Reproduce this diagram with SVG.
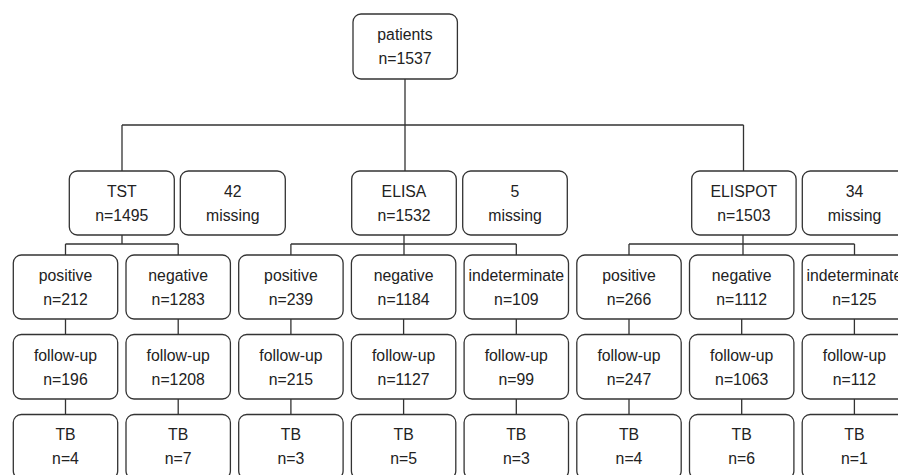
<svg xmlns="http://www.w3.org/2000/svg" width="898" height="475" viewBox="0 0 898 475">
<style>
rect{fill:#fff;stroke:#333;stroke-width:1.3}
text{font-family:"Liberation Sans",Arial,sans-serif;font-size:15.8px;fill:#222;text-anchor:middle}
.c path{fill:none;stroke:#333;stroke-width:1.3}
</style>
<rect x="0" y="0" width="898" height="475" style="stroke:none"/>
<g class="c" id="connectors">
<path d="M405 79V171M122 125H743.5M122 125V171M743.5 125V171"/>
<path d="M122 235V244M65.5 244H178.2M65.5 244V255M178.2 244V255"/>
<path d="M404 235V244M290.9 244H516.3M290.9 244V255M404 244V255M516.3 244V255"/>
<path d="M743 235V244M629 244H854.5M629 244V255M743 244V255M854.5 244V255"/>
<path d="M65.5 319V334M178.2 319V334M290.9 319V334M403.6 319V334M516.3 319V334M629 319V334M741.7 319V334M854.4 319V334"/>
<path d="M65.5 399V414M178.2 399V414M290.9 399V414M403.6 399V414M516.3 399V414M629 399V414M741.7 399V414M854.4 399V414"/>
</g>
<g id="patients"><rect x="353" y="14" width="104.4" height="65" rx="8"/><text x="405" y="40">patients</text><text x="405" y="64">n=1537</text></g>
<g id="tst"><rect x="69.3" y="171" width="105" height="64" rx="8"/><text x="121.8" y="197">TST</text><text x="121.8" y="221">n=1495</text></g>
<g id="tst-missing"><rect x="180.3" y="171" width="105" height="64" rx="8"/><text x="232.8" y="197">42</text><text x="232.8" y="221">missing</text></g>
<g id="elisa"><rect x="351.7" y="171" width="104.6" height="64" rx="8"/><text x="404" y="197">ELISA</text><text x="404" y="221">n=1532</text></g>
<g id="elisa-missing"><rect x="462.7" y="171" width="104.6" height="64" rx="8"/><text x="515" y="197">5</text><text x="515" y="221">missing</text></g>
<g id="elispot"><rect x="691.7" y="171" width="104.4" height="64" rx="8"/><text x="743.9" y="197">ELISPOT</text><text x="743.9" y="221">n=1503</text></g>
<g id="elispot-missing"><rect x="802.3" y="171" width="104.6" height="64" rx="8"/><text x="854.6" y="197">34</text><text x="854.6" y="221">missing</text></g>

<g id="tst-pos"><rect x="13.3" y="255" width="104.4" height="64" rx="8"/><text x="65.5" y="280.5">positive</text><text x="65.5" y="304.5">n=212</text></g>
<g id="tst-neg"><rect x="126" y="255" width="104.4" height="64" rx="8"/><text x="178.2" y="280.5">negative</text><text x="178.2" y="304.5">n=1283</text></g>
<g id="elisa-pos"><rect x="238.7" y="255" width="104.4" height="64" rx="8"/><text x="290.9" y="280.5">positive</text><text x="290.9" y="304.5">n=239</text></g>
<g id="elisa-neg"><rect x="351.4" y="255" width="104.4" height="64" rx="8"/><text x="403.6" y="280.5">negative</text><text x="403.6" y="304.5">n=1184</text></g>
<g id="elisa-ind"><rect x="464.1" y="255" width="104.4" height="64" rx="8"/><text x="516.3" y="280.5">indeterminate</text><text x="516.3" y="304.5">n=109</text></g>
<g id="elispot-pos"><rect x="576.8" y="255" width="104.4" height="64" rx="8"/><text x="629" y="280.5">positive</text><text x="629" y="304.5">n=266</text></g>
<g id="elispot-neg"><rect x="689.5" y="255" width="104.4" height="64" rx="8"/><text x="741.7" y="280.5">negative</text><text x="741.7" y="304.5">n=1112</text></g>
<g id="elispot-ind"><rect x="802.2" y="255" width="104.4" height="64" rx="8"/><text x="854.4" y="280.5">indeterminate</text><text x="854.4" y="304.5">n=125</text></g>

<g id="tst-pos-fu"><rect x="13.3" y="334.5" width="104.4" height="64.5" rx="8"/><text x="65.5" y="360.5">follow-up</text><text x="65.5" y="384.5">n=196</text></g>
<g id="tst-neg-fu"><rect x="126" y="334.5" width="104.4" height="64.5" rx="8"/><text x="178.2" y="360.5">follow-up</text><text x="178.2" y="384.5">n=1208</text></g>
<g id="elisa-pos-fu"><rect x="238.7" y="334.5" width="104.4" height="64.5" rx="8"/><text x="290.9" y="360.5">follow-up</text><text x="290.9" y="384.5">n=215</text></g>
<g id="elisa-neg-fu"><rect x="351.4" y="334.5" width="104.4" height="64.5" rx="8"/><text x="403.6" y="360.5">follow-up</text><text x="403.6" y="384.5">n=1127</text></g>
<g id="elisa-ind-fu"><rect x="464.1" y="334.5" width="104.4" height="64.5" rx="8"/><text x="516.3" y="360.5">follow-up</text><text x="516.3" y="384.5">n=99</text></g>
<g id="elispot-pos-fu"><rect x="576.8" y="334.5" width="104.4" height="64.5" rx="8"/><text x="629" y="360.5">follow-up</text><text x="629" y="384.5">n=247</text></g>
<g id="elispot-neg-fu"><rect x="689.5" y="334.5" width="104.4" height="64.5" rx="8"/><text x="741.7" y="360.5">follow-up</text><text x="741.7" y="384.5">n=1063</text></g>
<g id="elispot-ind-fu"><rect x="802.2" y="334.5" width="104.4" height="64.5" rx="8"/><text x="854.4" y="360.5">follow-up</text><text x="854.4" y="384.5">n=112</text></g>

<g id="tst-pos-tb"><rect x="13.3" y="414.5" width="104.4" height="64.5" rx="8"/><text x="65.5" y="440">TB</text><text x="65.5" y="464">n=4</text></g>
<g id="tst-neg-tb"><rect x="126" y="414.5" width="104.4" height="64.5" rx="8"/><text x="178.2" y="440">TB</text><text x="178.2" y="464">n=7</text></g>
<g id="elisa-pos-tb"><rect x="238.7" y="414.5" width="104.4" height="64.5" rx="8"/><text x="290.9" y="440">TB</text><text x="290.9" y="464">n=3</text></g>
<g id="elisa-neg-tb"><rect x="351.4" y="414.5" width="104.4" height="64.5" rx="8"/><text x="403.6" y="440">TB</text><text x="403.6" y="464">n=5</text></g>
<g id="elisa-ind-tb"><rect x="464.1" y="414.5" width="104.4" height="64.5" rx="8"/><text x="516.3" y="440">TB</text><text x="516.3" y="464">n=3</text></g>
<g id="elispot-pos-tb"><rect x="576.8" y="414.5" width="104.4" height="64.5" rx="8"/><text x="629" y="440">TB</text><text x="629" y="464">n=4</text></g>
<g id="elispot-neg-tb"><rect x="689.5" y="414.5" width="104.4" height="64.5" rx="8"/><text x="741.7" y="440">TB</text><text x="741.7" y="464">n=6</text></g>
<g id="elispot-ind-tb"><rect x="802.2" y="414.5" width="104.4" height="64.5" rx="8"/><text x="854.4" y="440">TB</text><text x="854.4" y="464">n=1</text></g>
</svg>
